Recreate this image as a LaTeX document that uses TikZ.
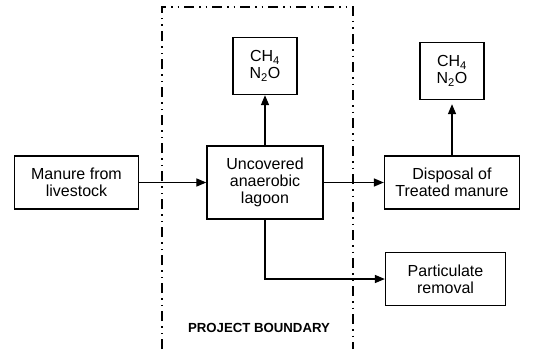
\documentclass[tikz,border=0pt]{standalone}
\usepackage{fontspec}
\setmainfont{Liberation Sans}
\usepackage{tikz}
\usetikzlibrary{positioning, arrows}
\tikzset{>=triangle 45}
\tikzset{block/.style={draw, line width=1.5pt, align=center, inner sep=2pt,
    font=\fontsize{16}{17}\selectfont}}
\tikzset{gas box/.style={block, minimum width=64pt, minimum height=57pt}}
\tikzset{flow/.style={->, line width=1.3pt}}
\tikzset{boundary/.style={line width=1.4pt,
    dash pattern=on 10pt off 5pt on 1.5pt off 5pt on 1.5pt off 5pt}}

\begin{document}
\begin{tikzpicture}[x=1pt, y=1pt]
    \useasboundingbox (0,0) rectangle (537,349);

    \node[block, minimum width=116pt, minimum height=73pt] (lagoon) at (265,166.5)
    {Uncovered\\anaerobic\\lagoon};

    \node[block, minimum width=124pt, minimum height=53pt, left=67pt of lagoon] (manure)
    {Manure from\\livestock};
    \node[block, minimum width=135pt, minimum height=53pt, right=60pt of lagoon] (disposal)
    {Disposal of\\Treated manure};

    \node[gas box, above=50pt of lagoon] (gas-l) {CH\textsubscript{4}\\N\textsubscript{2}O};
    \node[gas box, above=55pt of disposal] (gas-r) {CH\textsubscript{4}\\N\textsubscript{2}O};

    \node[block, minimum width=120pt, minimum height=53pt, below=42pt of disposal.south west,
      anchor=north west, xshift=1pt] (particulate) {Particulate\\removal};

    % project boundary, open at the bottom
    \coordinate (bnd-bl) at (162,0);
    \coordinate (bnd-tl) at (162,342);
    \coordinate (bnd-tr) at (353,342);
    \coordinate (bnd-br) at (353,0);
    \draw[boundary] (bnd-bl) -- (bnd-tl) -- (bnd-tr) -- (bnd-br);
    \node[font=\bfseries\fontsize{13.2}{15}\selectfont] (bnd-label) at (259,21.5)
    {PROJECT BOUNDARY};

    \draw[flow] (manure) to (lagoon);
    \draw[flow] (lagoon) to (disposal);
    \draw[flow] (lagoon) to (gas-l);
    \draw[flow, shorten >=4pt] (disposal) to (gas-r);
    \draw[flow] (lagoon.south) |- (particulate.west);
\end{tikzpicture}
\end{document}
